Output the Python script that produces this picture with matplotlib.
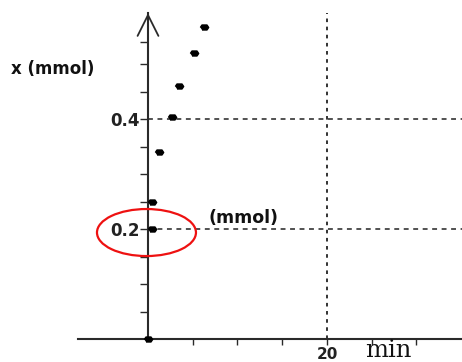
import matplotlib
matplotlib.use("Agg")
import matplotlib.pyplot as plt
from matplotlib.patches import Ellipse

# data (time in min, amount in mmol)
t_min = [0, 0.45, 0.45, 1.23, 2.68, 3.46, 5.14, 6.26]
x_mmol = [0, 0.20, 0.249, 0.34, 0.404, 0.46, 0.52, 0.567]
guide_t = 20
guide_x = [0.2, 0.4]
ytick_vals = [0.05, 0.10, 0.15, 0.20, 0.25, 0.30, 0.35, 0.40, 0.45, 0.50, 0.54]
ytick_labels = ["", "", "", "0.2", "", "", "", "0.4", "", "", ""]
xtick_vals = [5, 10, 15, 20, 25, 30]
xtick_labels = ["", "", "", "20", "", ""]

W, H = 462, 362
fig = plt.figure(figsize=(W / 100, H / 100), dpi=100)
ax = fig.add_axes([0, 0, 1, 1])
ax.set_xlim(-16.536, 35.084)
ax.set_ylim(-0.0418, 0.6164)
ax.patch.set_alpha(0)

axc = "#2a2a2a"
ytop = 0.5927
for s in ("top", "right"):
    ax.spines[s].set_visible(False)
ax.spines["left"].set_position(("data", 0))
ax.spines["bottom"].set_position(("data", 0))
ax.spines["left"].set_bounds(0, ytop)
ax.spines["bottom"].set_bounds(-7.82, 35.084)
for s in ("left", "bottom"):
    ax.spines[s].set_linewidth(1.5)
    ax.spines[s].set_color(axc)

ax.set_yticks(ytick_vals)
ax.set_yticklabels(ytick_labels, fontsize=12, fontweight="bold", color="#222222")
ax.set_xticks(xtick_vals)
ax.set_xticklabels(xtick_labels, fontsize=11, fontweight="bold", color="#222222")
ax.tick_params(axis="y", direction="out", length=6, width=1.0, color=axc, pad=0)
ax.tick_params(axis="x", direction="out", length=4.5, width=1.0, color=axc, pad=1)

# guide lines
ax.hlines(guide_x, 0, 35.084, colors="#222222", linestyles=(0, (3.2, 3.0)), linewidth=1.1, zorder=1)
ax.vlines(guide_t, 0, ytop, colors="#222222", linestyles=(0, (2.0, 2.5)), linewidth=1.3, zorder=1)

# axis arrow (open head)
ax.annotate("", xy=(0, ytop), xytext=(0, ytop - 0.05),
            arrowprops=dict(arrowstyle="->,head_length=1.5,head_width=0.75",
                            color=axc, lw=1.3, shrinkA=0, shrinkB=0))

# data points
ax.plot(t_min, x_mmol, linestyle="none",
        marker=[(-1, 0), (-0.6, 0.6), (0.6, 0.6), (1, 0), (0.6, -0.6), (-0.6, -0.6)],
        markersize=6, color="black", zorder=3, clip_on=False)

# red highlight ellipse around the 0.2 label
ax.add_patch(Ellipse((-0.17, 0.1936), width=11.06, height=0.0855, fill=False,
                     edgecolor="#ee1111", linewidth=1.6, zorder=4))

# texts
fig.text(11 / W, 1 - 69.5 / H, "x (mmol)", fontsize=12, fontweight="bold",
         ha="left", va="center", color="#111111")
fig.text(209 / W, 1 - 218 / H, "(mmol)", fontsize=12.5, fontweight="bold",
         ha="left", va="center", color="#111111")
fig.text(365 / W, 1 - 357 / H, "min", fontsize=17.5, family="DejaVu Serif",
         ha="left", va="baseline", color="#111111")

fig.savefig("out.png", dpi=100)
